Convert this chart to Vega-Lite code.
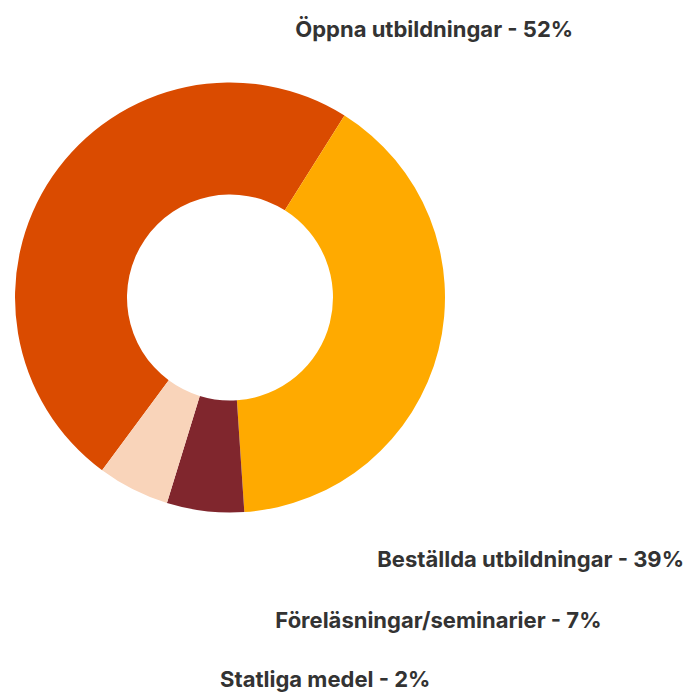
{
  "$schema": "https://vega.github.io/schema/vega-lite/v6.json",
  "width": 460,
  "height": 595,
  "autosize": {"type": "none"},
  "padding": {"left": 0, "top": 0, "right": 228, "bottom": 100},
  "background": "white",
  "config": {"view": {"stroke": null}},
  "data": {
    "values": [
      {"kategori": "Öppna utbildningar", "andel": 48.8, "etikett": "Öppna utbildningar - 52%"},
      {"kategori": "Beställda utbildningar", "andel": 40.0, "etikett": "Beställda utbildningar - 39%"},
      {"kategori": "Föreläsningar/seminarier", "andel": 5.8, "etikett": "Föreläsningar/seminarier - 7%"},
      {"kategori": "Statliga medel", "andel": 5.4, "etikett": "Statliga medel - 2%"}
    ]
  },
  "encoding": {
    "theta": {"field": "andel", "type": "quantitative", "stack": true, "scale": {"range": [3.7786, 10.0618]}},
    "order": {"field": "andel", "type": "quantitative", "sort": "descending"}
  },
  "layer": [
    {
      "mark": {"type": "arc", "outerRadius": 215, "innerRadius": 103},
      "encoding": {
        "color": {
          "field": "kategori",
          "type": "nominal",
          "legend": null,
          "scale": {
            "domain": ["Öppna utbildningar", "Beställda utbildningar", "Föreläsningar/seminarier", "Statliga medel"],
            "range": ["#DA4B00", "#FFAA00", "#80262D", "#F9D4BA"]
          }
        }
      }
    },
    {
      "mark": {"type": "text", "radius": 230, "align": "right", "baseline": "alphabetic", "dx": 533, "dy": -131, "font": "Inter", "fontWeight": "bold", "fontSize": 22, "color": "#333333"},
      "encoding": {"text": {"condition": {"test": "datum.kategori === 'Öppna utbildningar'", "field": "etikett"}, "value": ""}}
    },
    {
      "mark": {"type": "text", "radius": 230, "align": "right", "baseline": "alphabetic", "dx": 231, "dy": 213, "font": "Inter", "fontWeight": "bold", "fontSize": 22, "color": "#333333"},
      "encoding": {"text": {"condition": {"test": "datum.kategori === 'Beställda utbildningar'", "field": "etikett"}, "value": ""}}
    },
    {
      "mark": {"type": "text", "radius": 230, "align": "right", "baseline": "alphabetic", "dx": 398, "dy": 102, "font": "Inter", "fontWeight": "bold", "fontSize": 22, "color": "#333333"},
      "encoding": {"text": {"condition": {"test": "datum.kategori === 'Föreläsningar/seminarier'", "field": "etikett"}, "value": ""}}
    },
    {
      "mark": {"type": "text", "radius": 230, "align": "right", "baseline": "alphabetic", "dx": 304, "dy": 184, "font": "Inter", "fontWeight": "bold", "fontSize": 22, "color": "#333333"},
      "encoding": {"text": {"condition": {"test": "datum.kategori === 'Statliga medel'", "field": "etikett"}, "value": ""}}
    }
  ]
}
